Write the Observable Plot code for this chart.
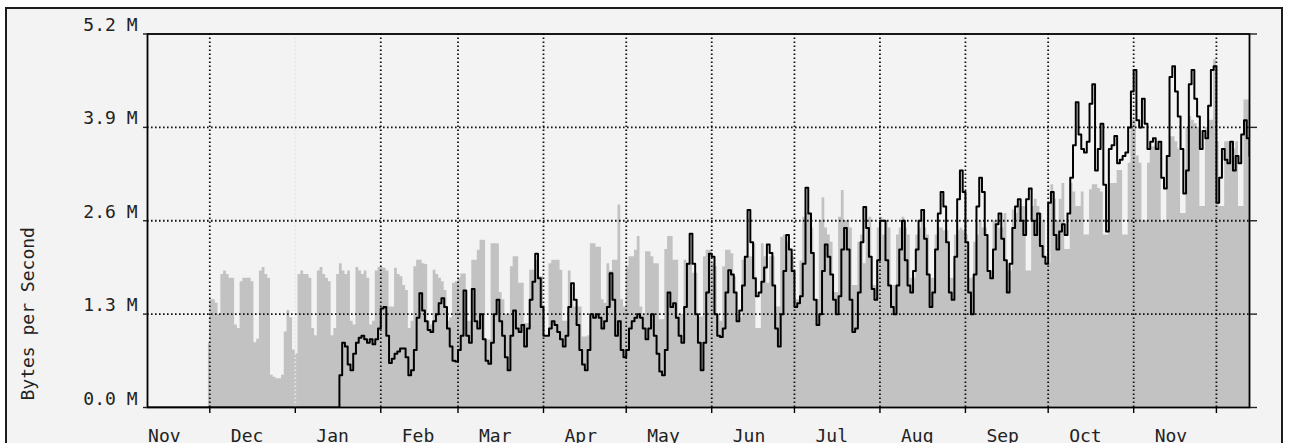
<!DOCTYPE html>
<html><head><meta charset="utf-8">
<script src="https://cdn.jsdelivr.net/npm/d3@7"></script>
<script src="https://cdn.jsdelivr.net/npm/@observablehq/plot@0.6"></script>
<style>
html,body{margin:0;padding:0;background:#fff;width:1289px;height:443px;overflow:hidden;}
#wrap{position:relative;width:1289px;height:443px;}
#box{position:absolute;left:5px;top:7px;width:1274px;height:460px;border:2px solid #1c1c1c;background:#f3f3f3;}
#chart{position:absolute;left:0;top:0;}
</style></head><body>
<div id="wrap"><div id="box"></div><div id="chart"></div></div>
<script>
// ---- data ----
const yTicks = [0, 1.3, 2.6, 3.9, 5.2];
const yLabel = "Bytes per Second";
const gridMonths = ["2005-12-01","2006-01-01","2006-02-01","2006-03-01","2006-04-01","2006-05-01","2006-06-01","2006-07-01","2006-08-01","2006-09-01","2006-10-01","2006-11-01","2006-12-01"];
const labelMonths = ["2005-11-01","2005-12-01","2006-01-01","2006-02-01","2006-03-01","2006-04-01","2006-05-01","2006-06-01","2006-07-01","2006-08-01","2006-09-01","2006-10-01","2006-11-01"];
const monthNames = ["Nov","Dec","Jan","Feb","Mar","Apr","May","Jun","Jul","Aug","Sep","Oct","Nov"];
const yearBoundary = "2006-01-01";
const xStart = "2005-11-08T09:50:00Z";
const xEnd = "2006-12-13T00:00:00Z";

// incoming (grey area), daily values in M bytes/s, starting 2005-11-30
const inStart = "2005-11-30";
const inValues = [
  0.9, 1.5, 1.5, 1.45, 1.3,
  1.85, 1.9, 1.85, 1.8, 1.8, 1.15, 1.1,
  1.75, 1.8, 1.8, 1.8, 1.75, 0.9, 0.95,
  1.9, 1.95, 1.85, 1.8, 0.45, 0.42, 0.4,
  0.4, 0.45, 1.05, 1.35, 1.25, 0.8, 0.75,
  1.85, 1.9, 1.85, 1.85, 1.8, 1.1, 1.0,
  1.9, 1.95, 1.85, 1.8, 1.75, 1.0, 1.1,
  1.85, 2.0, 1.9, 1.85, 1.9, 1.2, 1.15,
  1.95, 1.9, 1.85, 1.9, 1.8, 1.15, 1.2,
  1.9, 1.95, 1.95, 1.94, 1.9, 1.4, 1.4,
  1.94, 1.85, 1.82, 1.7, 1.63, 1.1, 1.2,
  1.96, 2.05, 2.05, 2.0, 1.99, 1.2, 1.15,
  1.91, 1.85, 1.8, 1.75, 1.63, 1.2, 1.25,
  1.73, 1.75, 1.8, 1.86, 1.86, 1.2, 1.2,
  2.05, 2.05, 2.19, 2.33, 2.33, 0.94, 0.94,
  2.28, 2.28, 2.28, 1.6, 1.5, 1.3, 1.3,
  1.96, 2.1, 2.1, 1.73, 1.73, 1.17, 1.17,
  1.91, 1.91, 2.05, 1.82, 1.82, 0.98, 0.98,
  2.0, 2.05, 2.05, 2.05, 1.91, 1.2, 1.2,
  1.9, 1.5, 1.4, 1.4, 1.4, 0.98, 0.98,
  1.0, 2.28, 2.28, 2.23, 2.23, 1.5, 1.45,
  2.0, 1.9, 2.05, 2.05, 2.82, 1.5, 1.4,
  1.96, 2.1, 2.1, 2.19, 2.38, 1.4, 1.3,
  2.17, 2.17, 2.1, 2.0, 2.0, 1.22, 1.22,
  2.2, 2.38, 2.38, 2.05, 2.05, 1.3, 1.3,
  2.05, 2.0, 2.0, 1.87, 1.87, 1.26, 1.26,
  2.1, 2.19, 2.19, 2.0, 1.96, 1.3, 1.2,
  1.96, 2.19, 2.19, 2.14, 1.82, 1.3, 1.25,
  2.05, 2.1, 2.1, 2.1, 2.28, 1.1, 1.1,
  2.28, 2.1, 1.73, 2.1, 2.1, 1.4, 1.4,
  2.37, 2.4, 2.3, 2.2, 2.1, 1.5, 1.5,
  2.04, 2.65, 2.7, 2.7, 2.5, 1.5, 1.5,
  2.6, 2.92, 2.5, 2.4, 2.3, 1.6, 1.6,
  2.65, 3.02, 2.6, 2.6, 2.5, 1.7, 1.7,
  2.3, 2.4, 2.0, 2.5, 2.65, 1.7, 1.7,
  2.5, 2.65, 2.4, 2.6, 2.5, 1.7, 1.7,
  2.4, 2.5, 2.65, 2.5, 2.4, 1.8, 1.8,
  2.4, 2.5, 2.6, 2.5, 2.4, 1.8, 1.8,
  2.4, 2.5, 2.5, 2.46, 2.46, 1.8, 1.8,
  2.4, 2.46, 2.5, 2.46, 2.4, 1.8, 1.8,
  2.3, 2.4, 2.6, 2.5, 2.5, 1.9, 1.9,
  2.6, 2.6, 2.5, 2.5, 2.7, 1.9, 1.9,
  2.75, 2.7, 2.8, 2.8, 2.8, 1.9, 1.9,
  2.8, 2.9, 2.8, 2.7, 2.6, 2.0, 2.0,
  3.1, 2.9, 2.6, 2.9, 3.12, 2.2, 2.2,
  3.12, 3.0, 2.8, 2.8, 3.0, 2.4, 2.4,
  3.03, 3.1, 3.1, 3.05, 3.0, 2.4, 2.4,
  3.12, 3.12, 3.12, 3.3, 3.3, 2.4, 2.4,
  3.4, 4.0, 4.0, 3.5, 3.4, 2.6, 2.6,
  3.4, 3.63, 3.63, 3.63, 3.6, 2.6, 2.6,
  3.5, 3.77, 3.77, 3.7, 3.6, 2.7, 2.7,
  3.9, 4.05, 4.0, 3.95, 3.9, 2.8, 2.8,
  3.9, 4.0, 4.0, 4.84, 3.7, 2.8, 2.8,
  3.7, 3.7, 3.7, 3.6, 3.7, 2.8, 2.8,
  4.28, 4.28, 4.2
];

// outgoing (black line), daily values in M bytes/s, starting 2005-11-07
const outStart = "2005-11-07";
const outValues = [
  0,0,0,0,0,0,0,0,0,0, 0,0,0,0,0,0,0,0,0,0, 0,0,0,0,0,0,0,0,0,0,
  0,0,0,0,0,0,0,0,0,0, 0,0,0,0,0,0,0,0,0,0, 0,0,0,0,0,0,0,0,0,0,
  0,0,0,0,0,0,0,0,0,0, 0,
  0.45, 0.9, 0.85, 0.6, 0.52, 0.75, 0.9,
  0.97, 1.0, 0.95, 0.9, 0.95, 0.88, 0.95,
  1.1, 1.38, 1.4, 1.0, 0.62, 0.68, 0.75,
  0.78, 0.82, 0.82, 0.7, 0.45, 0.52, 0.8,
  1.25, 1.59, 1.35, 1.2, 1.08, 1.05, 1.2,
  1.3, 1.45, 1.52, 1.4, 1.1, 0.85, 0.65,
  0.64, 0.8, 1.0, 1.63, 1.0, 0.9, 1.65,
  1.2, 1.1, 1.3, 0.95, 0.65, 0.61, 0.9,
  1.3, 1.5, 1.2, 1.0, 0.7, 0.52, 1.0,
  1.35, 1.1, 1.05, 1.15, 0.85, 1.1, 1.5,
  1.75, 2.14, 1.8, 1.4, 1.0, 1.0, 1.1,
  1.2, 1.15, 1.05, 0.95, 0.85, 1.0, 1.4,
  1.73, 1.5, 1.15, 0.8, 0.6, 0.52, 0.8,
  1.3, 1.25, 1.3, 1.25, 1.1, 1.2, 1.4,
  1.87, 1.5, 1.0, 1.2, 0.8, 0.7, 0.8,
  1.1, 1.2, 1.25, 1.3, 1.25, 1.1, 0.95,
  1.1, 1.3, 1.0, 0.75, 0.5, 0.45, 0.8,
  1.6, 1.4, 1.45, 1.25, 1.0, 0.9, 1.4,
  2.0, 2.42, 2.0, 1.3, 0.9, 0.52, 0.9,
  1.6, 2.14, 2.1, 1.3, 1.0, 0.98, 1.1,
  1.6, 1.91, 1.85, 1.6, 1.2, 1.35, 1.7,
  2.1, 2.75, 2.3, 1.8, 1.55, 1.6, 1.75,
  1.95, 2.27, 2.15, 1.7, 1.1, 0.85, 1.3,
  1.9, 2.4, 2.2, 1.9, 1.4, 1.45, 1.55,
  2.0, 3.06, 2.7, 2.15, 1.5, 1.15, 1.3,
  1.9, 2.27, 2.1, 1.85, 1.5, 1.3, 1.55,
  2.2, 2.5, 2.2, 1.5, 1.05, 1.1, 1.6,
  2.3, 2.79, 2.5, 2.1, 1.65, 1.5, 2.05,
  2.6, 2.6, 2.05, 1.7, 1.4, 1.3, 1.7,
  2.2, 2.6, 2.05, 1.7, 1.6, 1.9, 2.2,
  2.6, 2.75, 2.35, 1.85, 1.4, 1.6, 2.2,
  2.7, 3.0, 2.8, 2.3, 1.6, 1.5, 2.1,
  2.9, 3.3, 3.0, 2.3, 1.6, 1.3, 1.85,
  2.8, 3.2, 3.0, 2.4, 1.9, 1.8, 2.2,
  2.55, 2.7, 2.35, 2.05, 1.6, 2.0, 2.5,
  2.8, 2.9, 2.6, 2.4, 2.9, 3.05, 2.6,
  2.4, 2.7, 2.25, 2.1, 2.0, 2.85, 3.0,
  2.4, 2.2, 2.45, 2.55, 2.4, 2.7, 3.2,
  3.65, 4.25, 3.8, 3.6, 3.55, 3.7, 4.23,
  4.5, 3.3, 3.6, 3.95, 3.1, 2.45, 3.6,
  3.65, 3.78, 3.4, 3.45, 3.5, 3.55, 3.9,
  4.4, 4.7, 4.0, 3.9, 4.3, 3.95, 3.6,
  3.7, 3.75, 3.6, 3.7, 3.2, 3.05, 3.5,
  4.6, 4.75, 4.4, 4.05, 3.6, 2.98, 3.3,
  4.5, 4.7, 4.3, 4.05, 3.6, 3.85, 3.75,
  4.2, 4.7, 4.75, 2.85, 3.2, 3.6, 3.45,
  3.4, 3.7, 3.3, 3.5, 3.4, 3.8, 4.0,
  3.75, 3.5
];

// ---- build ----
const parseDay = d3.utcParse("%Y-%m-%d");
const toSeries = (start, values) => values.map((v, i) => ({date: d3.utcHour.offset(d3.utcDay.offset(parseDay(start), i), 12), v}));
const inData = toSeries(inStart, inValues);
const outData = toSeries(outStart, outValues);
const grid = gridMonths.map(parseDay);
const yb = +parseDay(yearBoundary);
const gridDark = grid.filter(d => +d !== yb);
const gridLight = grid.filter(d => +d === yb);
const labels = labelMonths.map((m, i) => ({date: parseDay(m), name: monthNames[i]}));
const fmt = d => d.toFixed(1) + " M";
const dots = "1.6,2.4";

const chart = Plot.plot({
  width: 1289, height: 443,
  marginLeft: 147, marginRight: 40, marginTop: 33.5, marginBottom: 36,
  style: {background: "transparent", fontFamily: "'DejaVu Sans Mono', monospace", fontSize: "18px", color: "#222", overflow: "visible"},
  x: {type: "utc", domain: [new Date(xStart), new Date(xEnd)]},
  y: {domain: [0, 5.2]},
  marks: [
    Plot.areaY(inData, {x: "date", y: "v", fill: "#c2c2c2", curve: "step", clip: true}),
    Plot.ruleX(gridDark, {x: d => d, stroke: "#111", strokeWidth: 1.8, strokeDasharray: dots}),
    Plot.ruleX(gridLight, {x: d => d, stroke: "#e6e6e6", strokeWidth: 1.8, strokeDasharray: dots}),
    Plot.ruleY(yTicks.slice(1, -1), {y: d => d, stroke: "#111", strokeWidth: 1.8, strokeDasharray: dots}),
    Plot.lineY(outData, {x: "date", y: "v", stroke: "#000", strokeWidth: 2, curve: "step", clip: true}),
    Plot.frame({stroke: "#000", strokeWidth: 1.8}),
    Plot.axisX({ticks: grid, tickSize: 6, tickFormat: () => "", label: null, stroke: "#000", strokeWidth: 1.4}),
    Plot.axisY({ticks: yTicks, tickSize: 4, tickFormat: () => "", label: null, strokeWidth: 1.4}),
    Plot.axisY({anchor: "right", ticks: yTicks, tickSize: 7, tickFormat: () => "", label: null, strokeWidth: 1.4}),
    Plot.text(yTicks, {y: d => d, text: fmt, frameAnchor: "left", textAnchor: "end", lineAnchor: "bottom", dx: -10, dy: -3, fill: "#222"}),
    Plot.text(labels, {x: "date", text: "name", frameAnchor: "bottom", textAnchor: "start", lineAnchor: "bottom", dx: 21, dy: 34, fill: "#222"}),
    Plot.text([yLabel], {text: d => d, frameAnchor: "bottom-left", rotate: -90, textAnchor: "start", dx: -114, dy: -7, fill: "#222"})
  ]
});
document.getElementById("chart").appendChild(chart);
</script>
</body></html>
